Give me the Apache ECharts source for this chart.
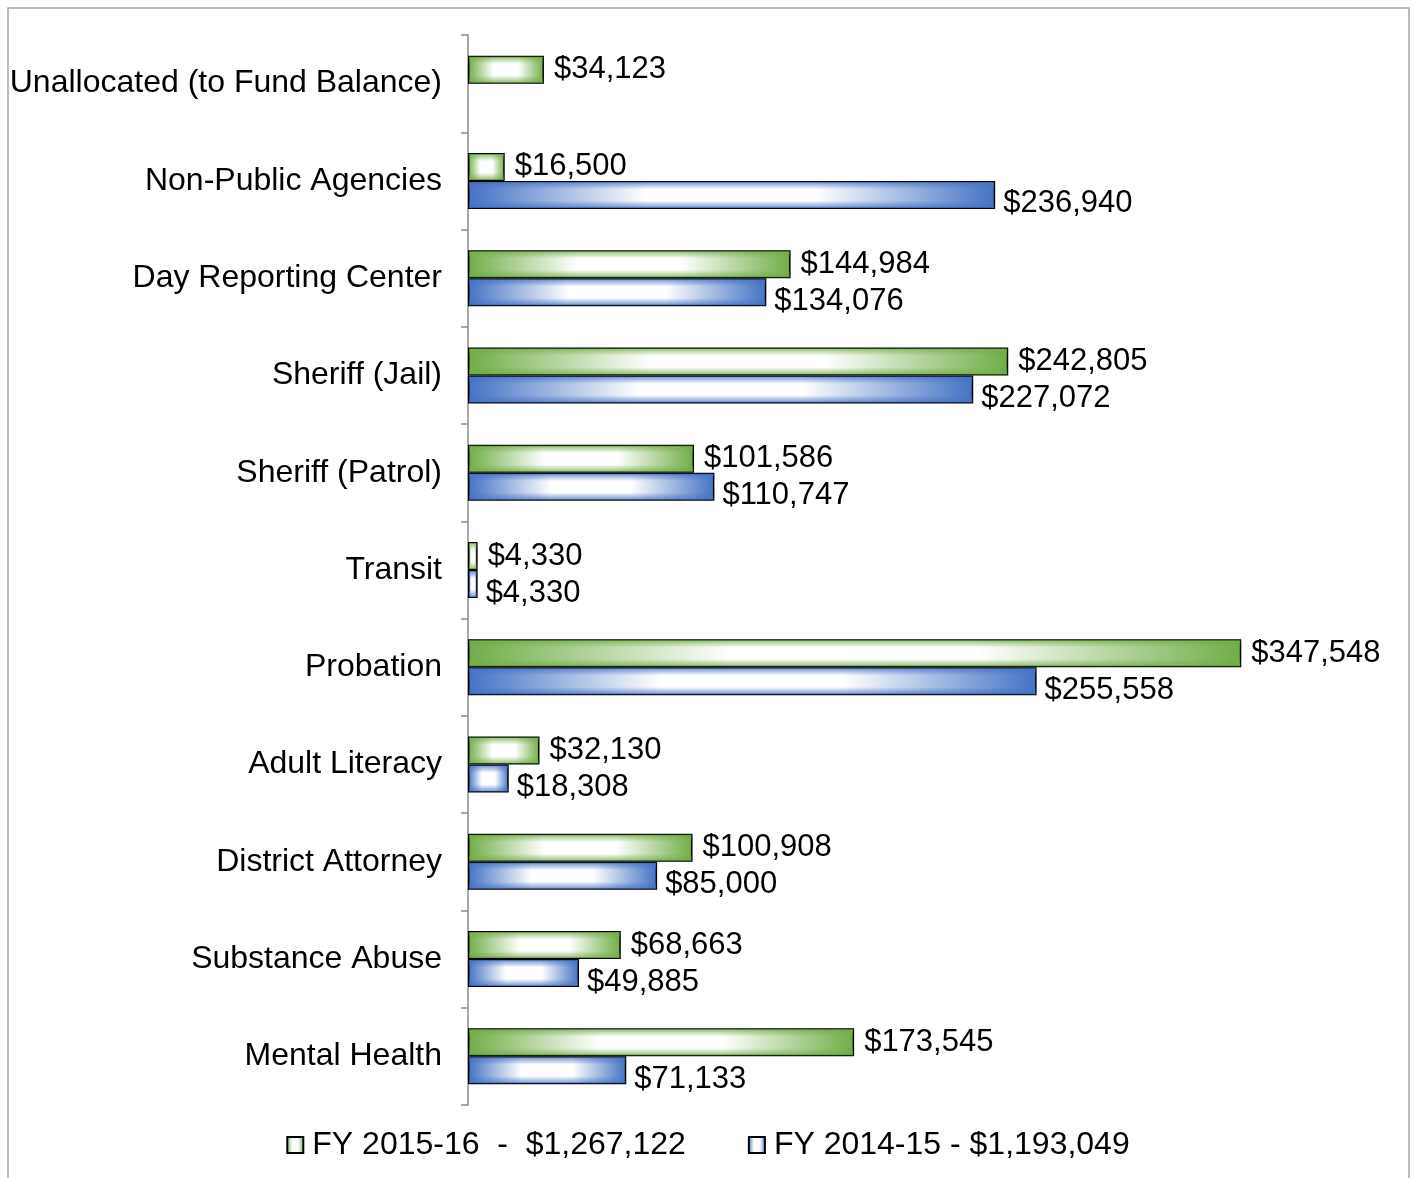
<!DOCTYPE html>
<html>
<head>
<meta charset="utf-8">
<title>Fund allocation</title>
<script src="https://cdn.jsdelivr.net/npm/echarts@6/dist/echarts.min.js"></script>
<style>
  html, body { margin: 0; padding: 0; background: #fff; }
  #chart { width: 1416px; height: 1178px; }
</style>
</head>
<body>
<div id="chart"></div>
<script>
// categories, top to bottom
const categories = [
  'Unallocated (to Fund Balance)',
  'Non-Public Agencies',
  'Day Reporting Center',
  'Sheriff (Jail)',
  'Sheriff (Patrol)',
  'Transit',
  'Probation',
  'Adult Literacy',
  'District Attorney',
  'Substance Abuse',
  'Mental Health'
];

const fy1516 = [34123, 16500, 144984, 242805, 101586, 4330, 347548, 32130, 100908, 68663, 173545];
const fy1415 = [null, 236940, 134076, 227072, 110747, 4330, 255558, 18308, 85000, 49885, 71133];

const seriesNames = ['FY 2015-16  -  $1,267,122', 'FY 2014-15 - $1,193,049'];

const FONT = '"Liberation Sans", Arial, sans-serif';
const BAR_W = 28;

// dark at both ends, white in the middle
function barFill(dark) {
  return new echarts.graphic.LinearGradient(0, 0, 1, 0, [
    { offset: 0, color: dark },
    { offset: 0.34, color: '#ffffff' },
    { offset: 0.66, color: '#ffffff' },
    { offset: 1, color: dark }
  ]);
}

// top / bottom shading laid over the bars (fake "from center" fill)
function edgeFill(rgb) {
  return new echarts.graphic.LinearGradient(0, 0, 0, 1, [
    { offset: 0, color: 'rgba(' + rgb + ',0.75)' },
    { offset: 0.28, color: 'rgba(' + rgb + ',0)' },
    { offset: 0.72, color: 'rgba(' + rgb + ',0)' },
    { offset: 1, color: 'rgba(' + rgb + ',0.75)' }
  ]);
}

function money(p) {
  return '$' + Number(p.value).toLocaleString('en-US');
}

function overlay(values, rgb, slot) {
  return {
    type: 'custom',
    silent: true,
    z: 3,
    encode: { x: 0, y: 1 },
    data: values.map((v, i) => [v, i]),
    renderItem: function (params, api) {
      let v = api.value(0);
      if (v == null || isNaN(v)) return;
      let cat = api.value(1);
      let p0 = api.coord([0, cat]);
      let p1 = api.coord([v, cat]);
      let top = p0[1] + (slot === 0 ? -BAR_W : 0);
      return {
        type: 'rect',
        shape: { x: p0[0] + 1, y: top + 1, width: Math.max(p1[0] - p0[0] - 2, 0), height: BAR_W - 2 },
        style: { fill: edgeFill(rgb) }
      };
    }
  };
}

let myChart = echarts.init(document.getElementById('chart'));

let option = {
  animation: false,
  textStyle: { fontFamily: FONT },
  graphic: [{
    type: 'rect',
    shape: { x: 8, y: 8, width: 1401, height: 1200 },
    style: { fill: 'none', stroke: '#a6a6a6', lineWidth: 1.5 },
    silent: true
  }],
  grid: { left: 468, right: 147, top: 35, bottom: 73 },
  legend: {
    top: 1124,
    left: 'center',
    itemGap: 62,
    itemWidth: 16,
    itemHeight: 16,
    icon: 'rect',
    textStyle: { fontSize: 32, color: '#000', fontFamily: FONT, padding: [0, 0, 0, 4] },
    data: seriesNames
  },
  xAxis: {
    type: 'value',
    min: 0,
    max: 360000,
    show: false,
    splitLine: { show: false }
  },
  yAxis: {
    type: 'category',
    inverse: true,
    data: categories,
    axisLine: { show: true, lineStyle: { color: '#8c8c8c', width: 1.5 } },
    axisTick: { show: true, length: 7, lineStyle: { color: '#8c8c8c', width: 1.5 } },
    axisLabel: { fontSize: 32, color: '#000', margin: 26, fontFamily: FONT, padding: [4, 0, 0, 0] }
  },
  series: [{
    name: seriesNames[0],
    type: 'bar',
    barWidth: BAR_W,
    barGap: '0%',
    itemStyle: { color: barFill('#70AD47'), borderColor: '#000', borderWidth: 1.5 },
    label: {
      show: true, position: 'right', distance: 10, offset: [0, 0],
      fontSize: 31, color: '#000', fontFamily: FONT, formatter: money
    },
    data: fy1516
  }, {
    name: seriesNames[1],
    type: 'bar',
    barWidth: BAR_W,
    barGap: '0%',
    itemStyle: { color: barFill('#4472C4'), borderColor: '#000', borderWidth: 1.5 },
    label: {
      show: true, position: 'right', distance: 8, offset: [0, 9],
      fontSize: 31, color: '#000', fontFamily: FONT, formatter: money
    },
    data: fy1415
  },
  overlay(fy1516, '112,173,71', 0),
  overlay(fy1415, '68,114,196', 1)
  ]
};

myChart.setOption(option);
</script>
</body>
</html>
